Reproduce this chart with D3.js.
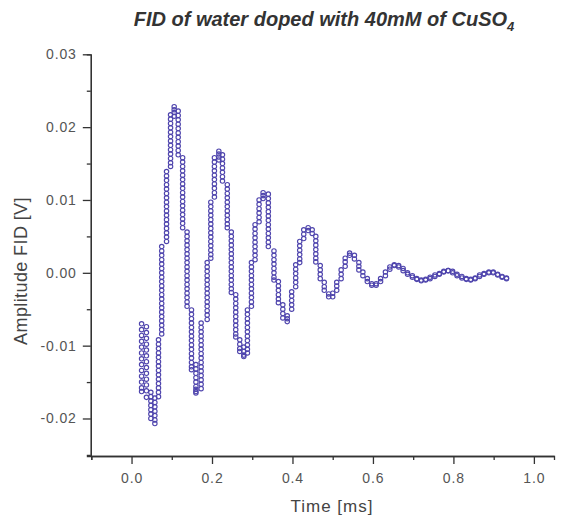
<!DOCTYPE html>
<html>
<head>
<meta charset="utf-8">
<script src="https://cdn.jsdelivr.net/npm/d3@7"></script>
<style>
  body { margin: 0; background: #fff; }
  text { font-family: "Liberation Sans", Arial, sans-serif; }
</style>
</head>
<body>
<div id="chart"></div>
<script>
// chart size
const svgWidth = 566;
const svgHeight = 516;

// time of each sample column [ms]
const timeMs = [
  0.025, 0.037, 0.048, 0.058, 0.067, 0.075, 0.087, 0.097, 0.106, 0.116,
  0.127, 0.138, 0.149, 0.160, 0.173, 0.188, 0.197, 0.206, 0.217, 0.226,
  0.238, 0.248, 0.259, 0.269, 0.279, 0.288, 0.298, 0.307, 0.317, 0.327,
  0.340, 0.354, 0.365, 0.376, 0.387, 0.398, 0.408, 0.418, 0.428, 0.439,
  0.449, 0.458, 0.469, 0.479, 0.490, 0.500, 0.510, 0.521, 0.531, 0.542,
  0.554, 0.565, 0.575, 0.586, 0.597, 0.608, 0.619, 0.631, 0.642, 0.653,
  0.664, 0.675, 0.686, 0.698, 0.709, 0.720, 0.731, 0.742, 0.754, 0.765,
  0.776, 0.787, 0.798, 0.809, 0.821, 0.832, 0.843, 0.854, 0.865, 0.876,
  0.888, 0.899, 0.910, 0.921, 0.932
];

// amplitudes read in each column [mV]
const ampMv = [
  [-7.0,-7.8,-8.6,-9.4,-10.2,-11.0,-11.8,-12.6,-13.4,-14.2,-15.0,-15.8,-16.3],
  [-7.4,-8.2,-9.0,-9.8,-10.6,-11.4,-12.2,-13.0,-13.8,-14.6,-15.4,-16.2,-17.1],
  [-16.4,-17.0,-17.6,-18.2,-18.8,-19.4,-20.0],
  [-17.2,-17.8,-18.4,-19.0,-19.6,-20.2,-20.7],
  [-9.2,-9.8,-10.4,-11.0,-11.6,-12.2,-12.8,-13.4,-14.0,-14.6,-15.2,-15.8,-16.4,-17.0],
  [3.6,3.0,2.4,1.8,1.2,0.6,0.0,-0.6,-1.2,-1.8,-2.4,-3.0,-3.6,-4.2,-4.8,-5.4,-6.0,-6.6,-7.2,-7.8,-8.4],
  [13.9,13.3,12.7,12.1,11.5,10.9,10.3,9.7,9.1,8.5,7.9,7.3,6.7,6.1,5.5,4.9,4.3],
  [21.7,21.1,20.5,19.9,19.3,18.7,18.1,17.5,16.9,16.3,15.7,15.1,14.6],
  [22.8,22.4,22.0,21.5],
  [22.2,21.6,21.0,20.4,19.8,19.2,18.6,18.0,17.4,16.8,16.2],
  [15.8,15.2,14.6,14.0,13.4,12.8,12.2,11.6,11.0,10.4,9.8,9.2,8.6,8.0,7.4,6.8,6.2],
  [5.6,5.0,4.4,3.8,3.2,2.6,2.0,1.4,0.8,0.2,-0.4,-1.0,-1.6,-2.2,-2.8,-3.4,-4.0,-4.6],
  [-5.1,-5.7,-6.3,-6.9,-7.5,-8.1,-8.7,-9.3,-9.9,-10.5,-11.1,-11.7,-12.3,-12.9,-13.3],
  [-12.6,-13.2,-13.8,-14.4,-15.0,-15.6,-16.0,-16.3,-16.5],
  [-6.9,-7.5,-8.1,-8.7,-9.3,-9.9,-10.5,-11.1,-11.7,-12.3,-12.9,-13.5,-14.1,-14.7,-15.3,-15.9],
  [1.4,0.8,0.2,-0.4,-1.0,-1.6,-2.2,-2.8,-3.4,-4.0,-4.6,-5.2,-5.8,-6.4],
  [9.7,9.1,8.5,7.9,7.3,6.7,6.1,5.5,4.9,4.3,3.7,3.1,2.5,2.0],
  [15.8,15.2,14.6,14.0,13.4,12.8,12.2,11.6,11.0,10.4],
  [16.7,16.3,15.9,15.5],
  [16.2,15.6,15.0,14.4,13.8,13.2,12.6],
  [12.1,11.5,10.9,10.3,9.7,9.1,8.5,7.9,7.3,6.7,6.2],
  [5.6,5.0,4.4,3.8,3.2,2.6,2.0,1.4,0.8,0.2,-0.4,-1.0,-1.6,-2.2,-2.7],
  [-3.0,-3.6,-4.2,-4.8,-5.4,-6.0,-6.6,-7.2,-7.8,-8.4,-8.8],
  [-9.2,-9.8,-10.4,-10.8],
  [-10.2,-10.8,-11.3,-11.5],
  [-5.1,-5.7,-6.3,-6.9,-7.5,-8.1,-8.7,-9.3,-9.9,-10.5,-11.0],
  [1.4,0.8,0.2,-0.4,-1.0,-1.6,-2.2,-2.8,-3.4,-4.0,-4.6],
  [6.6,6.0,5.4,4.8,4.2,3.6,3.0,2.4,1.8],
  [10.0,9.4,8.8,8.2,7.6,7.0],
  [11.0,10.6,10.2],
  [10.8,10.2,9.6,9.0,8.4,7.8,7.2,6.6,6.0,5.4,4.8,4.2,3.6],
  [3.0,2.4,1.8,1.2,0.6,0.0,-0.6,-1.0],
  [-1.2,-1.8,-2.4,-3.0,-3.6,-4.1],
  [-4.4,-5.0,-5.6,-6.2],
  [-5.9,-6.3,-6.7],
  [-2.6,-3.2,-3.8,-4.4,-5.0],
  [1.1,0.5,-0.1,-0.7,-1.3,-1.9],
  [4.3,3.7,3.1,2.5,1.9,1.4],
  [5.9,5.3,4.7],
  [6.2,5.8],
  [5.9,5.4],
  [5.0,4.4,3.8,3.2,2.6,2.0,1.5],
  [1.0,0.4,-0.2,-0.8],
  [-1.3,-1.9,-2.4],
  [-2.9,-3.3],
  [-3.3,-2.8],
  [-2.4,-1.8,-1.3],
  [-0.8,-0.2,0.4],
  [0.9,1.5,2.0],
  [2.7,2.4],
  [2.4,1.9],
  [1.4,0.9,0.4],
  [0.1,-0.4],
  [-0.8,-1.2],
  [-1.5,-1.7],
  [-1.7,-1.5],
  [-1.2,-0.8],
  [-0.4,0.1],
  [0.5,0.8],
  [1.0,1.1],
  [1.0,0.8],
  [0.6,0.3],
  [0.0,-0.2],
  [-0.4,-0.6],
  [-0.8,-0.9],
  [-1.0,-1.1],
  [-1.0,-0.9],
  [-0.8,-0.6],
  [-0.5,-0.3],
  [-0.2,-0.1],
  [0.1,0.2],
  [0.3,0.3],
  [0.2,0.0],
  [-0.2,-0.4],
  [-0.5,-0.7],
  [-0.8,-0.9],
  [-1.0,-0.9],
  [-0.8,-0.7],
  [-0.5,-0.3],
  [-0.2,-0.1],
  [0.0,0.1],
  [0.1,0.0],
  [-0.2,-0.3],
  [-0.5,-0.6],
  [-0.7,-0.8]
];

// ticks
const xMajorTicks = [0.0, 0.2, 0.4, 0.6, 0.8, 1.0];
const xMinorTicks = [-0.1, 0.1, 0.3, 0.5, 0.7, 0.9];
const yMajorTicks = [-20, -10, 0, 10, 20, 30];   // mV
const yMinorTicks = [-25, -15, -5, 5, 15, 25];   // mV

// pair each amplitude with its column time
const points = [];
ampMv.forEach((col, i) => {
  col.forEach(v => points.push({ t: timeMs[i], v: v }));
});

const svg = d3.select("#chart")
  .append("svg")
  .attr("width", svgWidth)
  .attr("height", svgHeight);

// scales (y in mV, labelled in V)
const xScale = d3.scaleLinear()
  .domain([-0.1, 1.05])
  .range([91.3, 554]);

const yScale = d3.scaleLinear()
  .domain([-25.15, 30])
  .range([456, 54.3]);

const axisColor = "#333";

// minor ticks first, then majors with labels
svg.append("g")
  .attr("transform", "translate(0,456)")
  .call(d3.axisBottom(xScale).tickValues(xMinorTicks).tickSize(4).tickFormat(""));

const xAxis = svg.append("g")
  .attr("transform", "translate(0,456)")
  .call(d3.axisBottom(xScale)
    .tickValues(xMajorTicks)
    .tickSize(8)
    .tickSizeOuter(0)
    .tickPadding(9)
    .tickFormat(d => d.toFixed(1)));

svg.append("g")
  .attr("transform", "translate(90.8,0)")
  .call(d3.axisLeft(yScale).tickValues(yMinorTicks).tickSize(4).tickFormat(""));

const yAxis = svg.append("g")
  .attr("transform", "translate(90.8,0)")
  .call(d3.axisLeft(yScale)
    .tickValues(yMajorTicks)
    .tickSize(8)
    .tickSizeOuter(0)
    .tickPadding(6)
    .tickFormat(d => (d / 1000).toFixed(2)));

svg.selectAll(".domain, .tick line")
  .attr("stroke", axisColor)
  .attr("stroke-width", 1.3);

svg.selectAll(".tick text")
  .attr("fill", "#555")
  .attr("font-size", "14px")
  .attr("letter-spacing", "0.9px")
  .attr("font-family", "'Liberation Sans', Arial, sans-serif");

// data circles
svg.append("g")
  .selectAll("circle")
  .data(points)
  .enter()
  .append("circle")
  .attr("cx", d => xScale(d.t))
  .attr("cy", d => yScale(d.v))
  .attr("r", 2.2)
  .attr("fill", "none")
  .attr("stroke", "#4f45ad")
  .attr("stroke-width", 1.15);

// title
const title = svg.append("text")
  .attr("x", 324)
  .attr("y", 26)
  .attr("text-anchor", "middle")
  .attr("font-size", "20px")
  .attr("font-weight", "bold")
  .attr("font-style", "italic")
  .attr("fill", "#333")
  .text("FID of water doped with 40mM of CuSO");
title.append("tspan")
  .attr("font-size", "13px")
  .attr("dy", "5")
  .text("4");

// axis labels
svg.append("text")
  .attr("x", 332)
  .attr("y", 512)
  .attr("text-anchor", "middle")
  .attr("font-size", "17px")
  .attr("letter-spacing", "1px")
  .attr("fill", "#444")
  .text("Time [ms]");

svg.append("text")
  .attr("transform", "translate(27,271) rotate(-90)")
  .attr("text-anchor", "middle")
  .attr("font-size", "18px")
  .attr("letter-spacing", "0.4px")
  .attr("fill", "#444")
  .text("Amplitude FID [V]");
</script>
</body>
</html>
